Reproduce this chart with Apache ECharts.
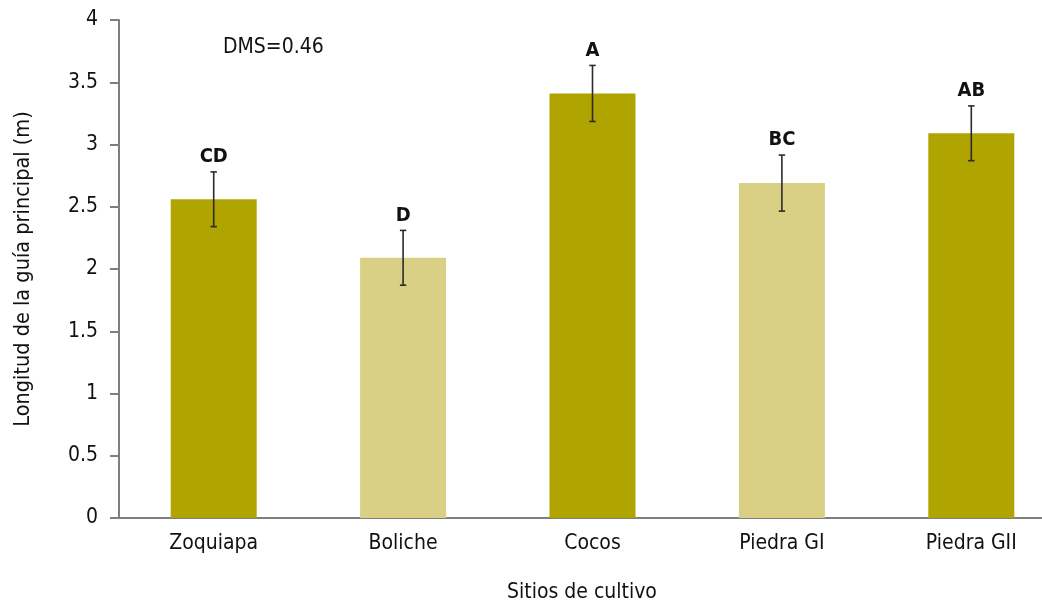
<!DOCTYPE html>
<html>
<head>
<meta charset="utf-8">
<script src="https://cdn.jsdelivr.net/npm/echarts@6/dist/echarts.min.js"></script>
<style>
  html, body { margin: 0; padding: 0; background: #fff; overflow: hidden; }
  #chart { width: 1042px; height: 605px; }
</style>
</head>
<body>
<div id="chart"></div>
<script>
// Main runner length by cultivation site
const sites = ['Zoquiapa', 'Boliche', 'Cocos', 'Piedra GI', 'Piedra GII'];
const meanLength = [2.56, 2.09, 3.41, 2.69, 3.09];
const stdError = [0.22, 0.22, 0.225, 0.225, 0.22];
const groupLetters = ['CD', 'D', 'A', 'BC', 'AB'];
const barShade = ['dark', 'light', 'dark', 'light', 'dark'];
const yTicks = [0, 0.5, 1, 1.5, 2, 2.5, 3, 3.5, 4];

const FONT = '"DejaVu Sans Condensed", "Liberation Sans Narrow", "Roboto", sans-serif';
const COLORS = { dark: '#b0a400', light: '#d9cf85' };

const chart = echarts.init(document.getElementById('chart'), null, { renderer: 'canvas' });

chart.setOption({
  animation: false,
  backgroundColor: '#ffffff',
  textStyle: { fontFamily: FONT },
  // the plot runs past the right edge of the canvas
  grid: { left: 119, right: -24, top: 20, bottom: 87, containLabel: false, outerBoundsMode: 'none' },
  xAxis: {
    type: 'category',
    data: sites,
    axisLine: { lineStyle: { color: '#7f7f7f', width: 2 } },
    axisTick: { show: false },
    axisLabel: { color: '#111', fontSize: 21, margin: 15, fontFamily: FONT }
  },
  yAxis: {
    type: 'value',
    min: 0,
    max: 4,
    interval: 0.5,
    name: 'Longitud de la guía principal (m)',
    nameLocation: 'middle',
    nameGap: 85,
    nameTextStyle: { color: '#111', fontSize: 21.5, fontFamily: FONT },
    axisLine: { show: true, lineStyle: { color: '#7f7f7f', width: 2 } },
    axisTick: { show: true, length: 9, lineStyle: { color: '#7f7f7f', width: 2 } },
    splitLine: { show: false },
    axisLabel: {
      color: '#111', fontSize: 21, margin: 21, fontFamily: FONT,
      formatter: v => (yTicks.includes(v) ? String(v) : '')
    }
  },
  graphic: [
    {
      type: 'text', left: 223, top: 37,
      style: { text: 'DMS=0.46', font: '21px ' + FONT, fill: '#111' }
    },
    {
      type: 'text', left: 507, top: 582,
      style: { text: 'Sitios de cultivo', font: '21px ' + FONT, fill: '#111' }
    }
  ],
  series: [
    {
      type: 'bar',
      barWidth: 86,
      data: meanLength.map((v, i) => ({
        value: v,
        itemStyle: { color: COLORS[barShade[i]] }
      }))
    },
    {
      // error bars with caps and the significance letters above
      type: 'custom',
      z: 5,
      data: meanLength.map((v, i) => [i, v - stdError[i], v + stdError[i], groupLetters[i]]),
      renderItem: function (params, api) {
        const x = api.value(0);
        const low = api.coord([x, api.value(1)]);
        const high = api.coord([x, api.value(2)]);
        const cap = 3.2;
        const line = { stroke: '#2b2b2b', lineWidth: 1.6 };
        return {
          type: 'group',
          children: [
            { type: 'line', shape: { x1: low[0], y1: low[1], x2: high[0], y2: high[1] }, style: line },
            { type: 'line', shape: { x1: low[0] - cap, y1: low[1], x2: low[0] + cap, y2: low[1] }, style: line },
            { type: 'line', shape: { x1: high[0] - cap, y1: high[1], x2: high[0] + cap, y2: high[1] }, style: line },
            {
              type: 'text',
              style: {
                x: high[0], y: high[1] - 5,
                text: groupLetters[params.dataIndex],
                font: 'bold 20px ' + FONT,
                fill: '#111',
                textAlign: 'center',
                textVerticalAlign: 'bottom'
              }
            }
          ]
        };
      }
    }
  ]
});
</script>
</body>
</html>
